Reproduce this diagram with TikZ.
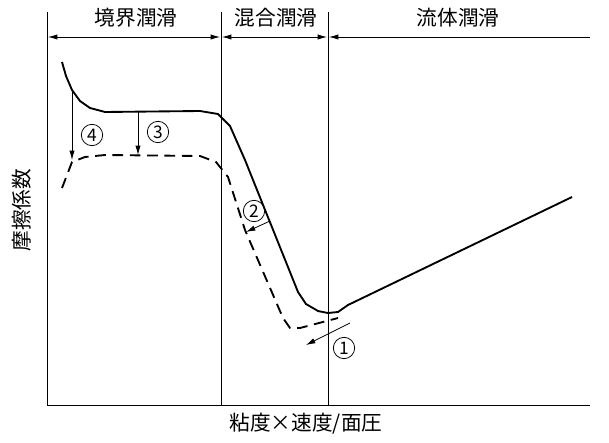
\documentclass[tikz,border=0pt]{standalone}
\usepackage{fontspec}
\setmainfont{Noto Sans CJK JP}
\usetikzlibrary{arrows.meta}
\begin{document}
\begin{tikzpicture}[x=0.75pt,y=-0.75pt,
  curve/.style={line width=1.4pt,line join=round},
  thin/.style={line width=0.6pt},
  arr/.style={thin,-{Latex[length=7pt,width=4pt]}},
  lbl/.style={font=\fontsize{15.5}{18}\selectfont},
  num/.style={font=\fontsize{13}{15}\selectfont}]
\useasboundingbox (0,0) rectangle (609,442);
\coordinate (tl) at (47,12); \coordinate (bl) at (47,405); \coordinate (br) at (590,405);
\coordinate (m1t) at (221,12); \coordinate (m1b) at (221,405);
\coordinate (m2t) at (328,12); \coordinate (m2b) at (328,405);
\draw[thin] (tl) -- (bl) -- (br);
\draw[thin] (m1t) -- (m1b);
\draw[thin] (m2t) -- (m2b);
\coordinate (a1) at (48,37); \coordinate (a2) at (220,37); \coordinate (a3) at (222,37);
\coordinate (a4) at (327,37); \coordinate (a5) at (329,37); \coordinate (a6) at (590,37);
\draw[thin,{Latex[length=7pt,width=4pt]}-{Latex[length=7pt,width=4pt]}] (a1) -- (a2);
\draw[thin,{Latex[length=7pt,width=4pt]}-{Latex[length=7pt,width=4pt]}] (a3) -- (a4);
\draw[thin,{Latex[length=7pt,width=4pt]}-] (a5) -- (a6);
\node[lbl] (t1) at (136,18) {境界潤滑};
\node[lbl] (t2) at (276,18) {混合潤滑};
\node[lbl] (t3) at (458,18) {流体潤滑};
\node[lbl,rotate=90] (yl) at (22,210) {摩擦係数};
\node[lbl] (xl) at (306,424) {粘度×速度/面圧};
\draw[curve] (62,62) -- (66,76) -- (72,90) -- (80,101) -- (90,108) -- (105,112) -- (200,111) -- (218,114) -- (230,126) -- (245,160) -- (298,292) -- (306,304) -- (318,311) -- (328,313) -- (338,312) -- (348,305) -- (572,197);
\draw[curve,dashed,dash pattern=on 8pt off 5pt] (62,188) -- (72,162) -- (85,157) -- (105,155) -- (200,156) -- (216,162) -- (228,177) -- (245,230) -- (283,318) -- (290,328) -- (300,328) -- (338,318);
\coordinate (s4) at (72,90); \coordinate (e4) at (72,160);
\coordinate (s3) at (138,112); \coordinate (e3) at (138,155);
\coordinate (s2) at (270,221); \coordinate (e2) at (246,232);
\coordinate (s1) at (350,323); \coordinate (e1) at (306,345);
\draw[arr] (s4) -- (e4);
\draw[arr] (s3) -- (e3);
\draw[arr] (s2) -- (e2);
\draw[arr] (s1) -- (e1);
\node[num,circle,draw,thin,inner sep=1pt,minimum size=16pt] (n4) at (92,135) {4};
\node[num,circle,draw,thin,inner sep=1pt,minimum size=16pt] (n3) at (158,132) {3};
\node[num,circle,draw,thin,inner sep=1pt,minimum size=16pt] (n2) at (254,211) {2};
\node[num,circle,draw,thin,inner sep=1pt,minimum size=16pt] (n1) at (344,348) {1};
\end{tikzpicture}
\end{document}
